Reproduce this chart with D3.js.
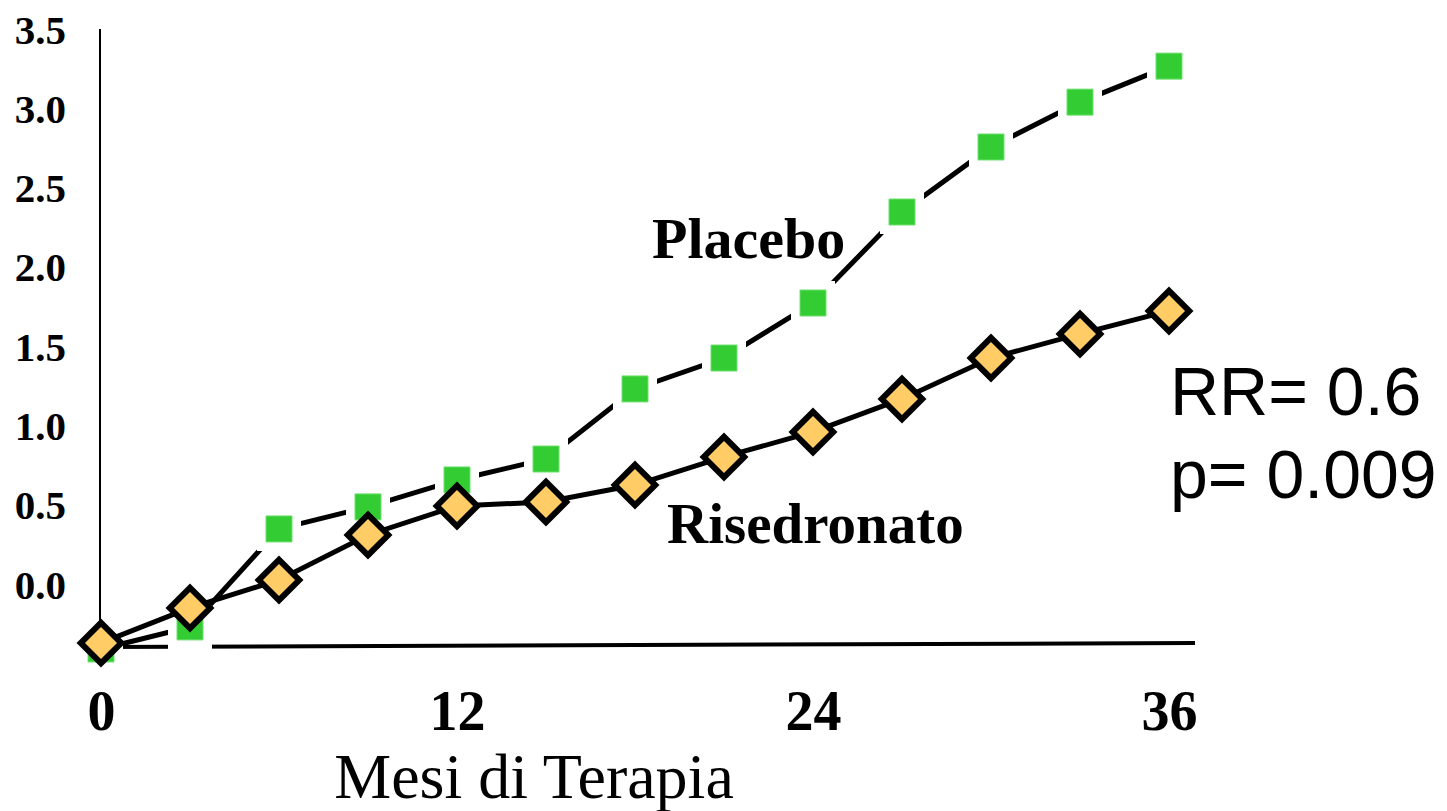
<!DOCTYPE html>
<html>
<head>
<meta charset="utf-8">
<script src="https://cdn.jsdelivr.net/npm/d3@7"></script>
<style>
  html, body { margin: 0; padding: 0; background: #ffffff; }
  svg { display: block; }
</style>
</head>
<body>
<svg id="chart" width="1447" height="811"></svg>
<script>
// ---- data (values read in the units of the printed y tick labels) ----
const months = [0, 3, 6, 9, 12, 15, 18, 21, 24, 27, 30, 33, 36];
const placebo = [-0.385, -0.246, 0.372, 0.511, 0.681, 0.813, 1.255, 1.450, 1.797, 2.371, 2.781, 3.064, 3.291];
const risedronato = [-0.347, -0.126, 0.050, 0.334, 0.517, 0.542, 0.649, 0.826, 0.984, 1.192, 1.450, 1.602, 1.747];
const yTicks = [0.0, 0.5, 1.0, 1.5, 2.0, 2.5, 3.0, 3.5];
const xTicks = [0, 12, 24, 36];
const xTitle = "Mesi di Terapia";
const seriesLabels = ["Placebo", "Risedronato"];
const statLines = ["RR= 0.6", "p= 0.009"];

const svg = d3.select("#chart");
const x = d3.scaleLinear().domain([0, 36]).range([101, 1169]);
const y = d3.scaleLinear().domain([-0.36, 3.5]).range([645, 33]);

const serif = "'Liberation Serif', 'Times New Roman', serif";
const sans = "'Liberation Sans', Arial, sans-serif";

// y axis (labels only, drawn through d3 axis)
const yAxis = d3.axisLeft(y).tickValues(yTicks).tickSize(0).tickPadding(0)
  .tickFormat(d3.format(".1f"));
const yg = svg.append("g").attr("transform", "translate(66,0)").call(yAxis);
yg.select(".domain").remove();
yg.selectAll("text")
  .attr("font-family", serif).attr("font-weight", "bold").attr("font-size", 41)
  .attr("fill", "#000").attr("dy", "0.32em").attr("y", -3);

// x axis labels
const xAxis = d3.axisBottom(x).tickValues(xTicks).tickSize(0).tickPadding(0);
const xg = svg.append("g").attr("transform", "translate(0,690)").call(xAxis);
xg.select(".domain").remove();
xg.selectAll("text")
  .attr("font-family", serif).attr("font-weight", "bold").attr("font-size", 56)
  .attr("fill", "#000").attr("dy", "0.71em");

// axis lines
svg.append("line")
  .attr("x1", 100).attr("x2", 100).attr("y1", 29).attr("y2", y(-0.36) + 2)
  .attr("stroke", "#000").attr("stroke-width", 2);
svg.append("line")
  .attr("x1", 100).attr("x2", 1195).attr("y1", y(-0.36) + 2).attr("y2", y(-0.36) - 2)
  .attr("stroke", "#000").attr("stroke-width", 4);

const pData = months.map((m, i) => [m, placebo[i]]);
const rData = months.map((m, i) => [m, risedronato[i]]);
const line = d3.line().x(d => x(d[0])).y(d => y(d[1]));

// placebo line
svg.append("path").datum(pData).attr("d", line)
  .attr("fill", "none").attr("stroke", "#000").attr("stroke-width", 5);

// placebo markers with white halo
const sq = d3.symbol(d3.symbolSquare, 676);
svg.append("g").selectAll("path").data(pData).join("path")
  .attr("d", sq).attr("transform", d => `translate(${x(d[0])},${y(d[1])})`)
  .attr("fill", "#fff").attr("stroke", "#fff").attr("stroke-width", 18);
svg.append("g").selectAll("path").data(pData).join("path")
  .attr("d", sq).attr("transform", d => `translate(${x(d[0])},${y(d[1])})`)
  .attr("fill", "#33CC33").attr("stroke", "#6fe06f").attr("stroke-width", 1);

// risedronato line
svg.append("path").datum(rData).attr("d", line)
  .attr("fill", "none").attr("stroke", "#000").attr("stroke-width", 5);

// diamonds
const dm = d3.symbol(d3.symbolSquare, 820);
svg.append("g").selectAll("path").data(rData).join("path")
  .attr("d", dm).attr("transform", d => `translate(${x(d[0])},${y(d[1])}) rotate(45)`)
  .attr("fill", "#FFCC66").attr("stroke", "#000").attr("stroke-width", 6)
  .attr("stroke-linejoin", "miter");

// series labels
svg.append("text").attr("x", 652).attr("y", 258).text(seriesLabels[0])
  .attr("font-family", serif).attr("font-weight", "bold").attr("font-size", 58);
svg.append("text").attr("x", 667).attr("y", 543).text(seriesLabels[1])
  .attr("font-family", serif).attr("font-weight", "bold").attr("font-size", 57);

// stats
svg.append("text").attr("x", 1170).attr("y", 415).text(statLines[0])
  .attr("font-family", sans).attr("font-size", 68);
svg.append("text").attr("x", 1170).attr("y", 498).text(statLines[1])
  .attr("font-family", sans).attr("font-size", 68);

// x title
svg.append("text").attr("x", 534).attr("y", 798).attr("text-anchor", "middle").text(xTitle)
  .attr("font-family", serif).attr("font-size", 64);
</script>
</body>
</html>
